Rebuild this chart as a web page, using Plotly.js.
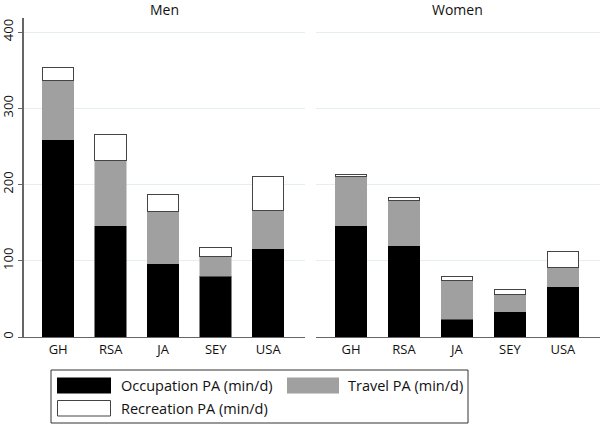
<!DOCTYPE html>
<html>
<head>
<meta charset="utf-8">
<script src="https://cdn.plot.ly/plotly-3.0.1.min.js"></script>
<style>html,body{margin:0;padding:0;background:#fff;}#chart{width:600px;height:424px;}</style>
</head>
<body>
<div id="chart"></div>
<script>
const countries = ["GH", "RSA", "JA", "SEY", "USA"];
const panels = ["Men", "Women"];
const seriesNames = ["Occupation PA (min/d)", "Travel PA (min/d)", "Recreation PA (min/d)"];
const menOccupation = [259, 146, 96, 80, 116];
const menTravel = [78, 86, 68, 25, 50];
const menRecreation = [16, 33, 23, 12, 44];
const womenOccupation = [146, 120, 23, 33, 66];
const womenTravel = [65, 59, 51, 23, 25];
const womenRecreation = [2.5, 4, 5, 6, 21];
const yTicks = [0, 100, 200, 300, 400];

const fills = ["#000000", "#a0a0a0", "#ffffff"];
const lines = ["#000000", "#a0a0a0", "#444444"];
const font = "Open Sans, Noto Sans, Liberation Sans, sans-serif";

const data = [];
const groups = [
  [menOccupation, menTravel, menRecreation],
  [womenOccupation, womenTravel, womenRecreation]
];
groups.forEach((g, p) => {
  g.forEach((vals, s) => {
    data.push({
      type: "bar",
      x: countries,
      y: vals,
      name: seriesNames[s],
      xaxis: p === 0 ? "x" : "x2",
      yaxis: p === 0 ? "y" : "y2",
      width: 0.6,
      marker: {color: fills[s], line: {color: lines[s], width: s === 2 ? 1 : 0.5}},
      showlegend: false,
      hoverinfo: "y"
    });
  });
});

const H = 424, W = 600;
const px = v => v / W;
const py = v => (H - v) / H;

const yDom = [py(337), py(18)];
const yRange = [0, 418.4];
const xRange = [-0.66, 4.7];

const axisX = {
  type: "category", range: xRange, showgrid: false, zeroline: false,
  showline: true, linecolor: "#666666", linewidth: 1.2, ticks: "",
  tickfont: {family: font, size: 13, color: "#111"}, fixedrange: true
};
const axisY = {
  range: yRange, tickvals: yTicks, showgrid: true, gridcolor: "#e6eff0", gridwidth: 1,
  zeroline: false, fixedrange: true
};

const legendShapes = [
  {type: "rect", xref: "paper", yref: "paper", x0: px(51), x1: px(468), y0: py(370), y1: py(423), line: {color: "#333", width: 1}, fillcolor: "rgba(0,0,0,0)"},
  {type: "rect", xref: "paper", yref: "paper", x0: px(57), x1: px(111), y0: py(377.5), y1: py(393.5), line: {width: 0}, fillcolor: fills[0]},
  {type: "rect", xref: "paper", yref: "paper", x0: px(287), x1: px(339), y0: py(377.5), y1: py(393.5), line: {width: 0}, fillcolor: fills[1]},
  {type: "rect", xref: "paper", yref: "paper", x0: px(57.5), x1: px(110.5), y0: py(400.5), y1: py(416), line: {color: "#444", width: 1}, fillcolor: fills[2]}
];
const legendText = [
  {text: seriesNames[0], x: px(119), y: py(385.5)},
  {text: seriesNames[1], x: px(346), y: py(385.5)},
  {text: seriesNames[2], x: px(119), y: py(408.5)}
].map(a => Object.assign({xref: "paper", yref: "paper", xanchor: "left", yanchor: "middle", showarrow: false, font: {family: font, size: 14.5, color: "#111"}}, a));

const titles = panels.map((t, i) => ({
  text: t, xref: "paper", yref: "paper", x: i === 0 ? px(164) : px(457), y: py(9.5),
  xanchor: "center", yanchor: "middle", showarrow: false, font: {family: font, size: 14, color: "#111"}
}));

const layout = {
  width: W, height: H,
  margin: {l: 0, r: 0, t: 0, b: 0},
  paper_bgcolor: "#fff", plot_bgcolor: "#fff",
  barmode: "stack",
  showlegend: false,
  font: {family: font},
  xaxis: Object.assign({}, axisX, {domain: [px(23.5), px(305)], anchor: "y"}),
  xaxis2: Object.assign({}, axisX, {domain: [px(316), px(600)], anchor: "y2"}),
  yaxis: Object.assign({}, axisY, {domain: yDom, anchor: "x", showline: true, linecolor: "#666666", linewidth: 1.2,
    ticks: "outside", ticklen: 4, tickcolor: "#666666", tickangle: -90,
    tickfont: {family: font, size: 13, color: "#111"}}),
  yaxis2: Object.assign({}, axisY, {domain: yDom, anchor: "x2", showline: false, showticklabels: false, ticks: ""}),
  shapes: legendShapes,
  annotations: titles.concat(legendText)
};

Plotly.newPlot("chart", data, layout, {displayModeBar: false, staticPlot: true});
</script>
</body>
</html>
